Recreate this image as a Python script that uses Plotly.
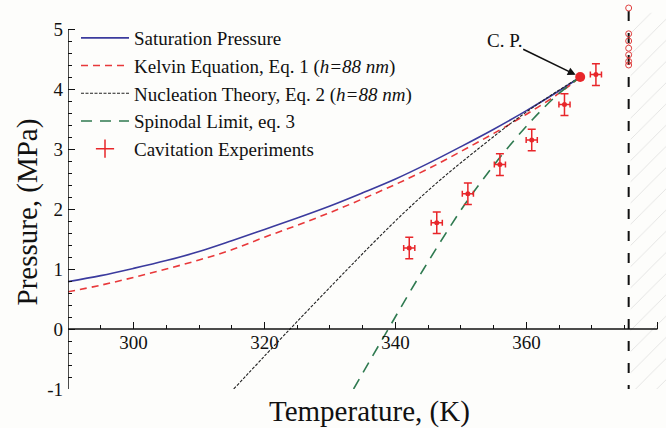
import plotly.graph_objects as go

# ---------------- data ----------------
sat_T = [290, 295, 300, 305, 310, 315, 320, 325, 330, 335, 340, 345, 350, 355, 360, 365, 368.2]
sat_P = [0.79, 0.89, 1.01, 1.14, 1.29, 1.47, 1.66, 1.85, 2.05, 2.27, 2.50, 2.76, 3.04, 3.33, 3.64, 3.97, 4.20]

kel_T = [290, 295, 300, 305, 310, 315, 320, 325, 330, 335, 340, 345, 350, 355, 360, 365, 368.2]
kel_P = [0.62, 0.73, 0.86, 1.00, 1.15, 1.32, 1.53, 1.73, 1.94, 2.17, 2.41, 2.67, 2.96, 3.26, 3.58, 3.93, 4.20]

nuc_T = [315.3, 323.9, 332.7, 337.2, 341.9, 347.0, 352.6, 358.5, 363.8, 368.2]
nuc_P = [-1.0, 0.0, 1.0, 1.5, 2.0, 2.5, 3.0, 3.5, 3.9, 4.20]

spi_T = [333.6, 338.9, 344.3, 350.1, 353.4, 357.0, 361.0, 364.7, 368.2]
spi_P = [-1.0, 0.0, 1.0, 2.0, 2.5, 3.0, 3.5, 3.9, 4.20]

exp_T = [342.1, 346.3, 351.05, 355.94, 360.8, 365.8, 370.6]
exp_P = [1.35, 1.77, 2.255, 2.74, 3.15, 3.74, 4.24]
exp_dT = [0.85, 0.85, 0.85, 0.85, 0.85, 0.85, 0.85]
exp_dP = [0.18, 0.18, 0.18, 0.18, 0.18, 0.18, 0.18]

cp_T = [368.2]
cp_P = [4.20]

lim_T = 375.6
lim_circ_P = [5.35, 4.92, 4.80, 4.68, 4.57, 4.46, 4.40]
lim_P_span = [-1.1, 5.35]
hatch_T = [375.9, 381.5]
hatch_P = [-1.13, 5.27]

x_ticks = [300, 320, 340, 360, 380]
y_ticks = [-1, 0, 1, 2, 3, 4, 5]

x_range = [290, 381.3]
y_range = [-1.0, 5.45]

FONT = "'Liberation Serif', 'DejaVu Serif', serif"
RED = "#e8262a"

fig = go.Figure()

# hatched region
fig.add_trace(go.Scatter(
    x=[hatch_T[0], hatch_T[1], hatch_T[1], hatch_T[0], hatch_T[0]],
    y=[hatch_P[0], hatch_P[0], hatch_P[1], hatch_P[1], hatch_P[0]],
    fill="toself", mode="lines", line=dict(width=0, color="rgba(0,0,0,0)"),
    fillcolor="rgba(0,0,0,0)",
    fillpattern=dict(shape="/", size=15, solidity=0.06, fgcolor="#c8c8c8",
                     bgcolor="rgba(0,0,0,0)", fillmode="overlay"),
    showlegend=False, hoverinfo="skip"))

# vertical dashed limit line
fig.add_trace(go.Scatter(
    x=[lim_T, lim_T], y=lim_P_span, mode="lines",
    line=dict(color="#111111", width=2, dash="10px,12px"),
    showlegend=False, hoverinfo="skip"))
fig.add_trace(go.Scatter(
    x=[lim_T] * len(lim_circ_P), y=lim_circ_P, mode="markers",
    marker=dict(symbol="circle-open", size=6, color="#e04040", line=dict(width=1)),
    showlegend=False, cliponaxis=False, hoverinfo="skip"))

fig.add_trace(go.Scatter(
    x=sat_T, y=sat_P, mode="lines", name="Saturation Pressure",
    line=dict(color="#3b3b9e", width=1.6, shape="spline")))
fig.add_trace(go.Scatter(
    x=kel_T, y=kel_P, mode="lines",
    name="Kelvin Equation, Eq. 1 (<i>h=88 nm</i>)",
    line=dict(color="#e8383a", width=1.6, dash="7px,5px", shape="spline")))
fig.add_trace(go.Scatter(
    x=nuc_T, y=nuc_P, mode="lines",
    name="Nucleation Theory, Eq. 2 (<i>h=88 nm</i>)",
    line=dict(color="#222222", width=1.1, dash="3px,1.5px", shape="spline")))
fig.add_trace(go.Scatter(
    x=spi_T, y=spi_P, mode="lines", name="Spinodal Limit, eq. 3",
    line=dict(color="#2f7a50", width=1.6, dash="11px,8px", shape="spline")))
fig.add_trace(go.Scatter(
    x=exp_T, y=exp_P, mode="markers", name="Cavitation Experiments",
    marker=dict(color=RED, size=5), showlegend=False,
    error_x=dict(type="data", array=exp_dT, color=RED, thickness=1.5, width=3),
    error_y=dict(type="data", array=exp_dP, color=RED, thickness=1.5, width=4)))
# legend entry for the experiments (cross-shaped key)
fig.add_trace(go.Scatter(
    x=[None], y=[None], mode="markers", name="Cavitation Experiments",
    marker=dict(symbol="cross-thin", size=13, color=RED, line=dict(width=1.5, color=RED))))
fig.add_trace(go.Scatter(
    x=cp_T, y=cp_P, mode="markers", marker=dict(color=RED, size=10),
    showlegend=False, hoverinfo="skip"))

# axis lines drawn only over the labelled span
fig.add_shape(type="line", xref="x", yref="y", x0=x_range[0], x1=x_ticks[-1], y0=0, y1=0,
              line=dict(color="#111111", width=1.5))
fig.add_shape(type="line", xref="x", yref="y", x0=x_range[0], x1=x_range[0],
              y0=y_ticks[0], y1=y_ticks[-1], line=dict(color="#111111", width=1.5))

# C. P. annotation
fig.add_annotation(x=cp_T[0], y=cp_P[0], xref="x", yref="y", text="C. P.",
                   showarrow=True, arrowhead=2, arrowsize=1, arrowwidth=1.6,
                   arrowcolor="#111111", ax=-76, ay=-37, standoff=5,
                   font=dict(family=FONT, size=19, color="#111111"))

# axis titles
fig.add_annotation(x=(369 - 68) / 598, y=(389 - 411.5) / 387, xref="paper", yref="paper",
                   text="Temperature, (K)", showarrow=False, xanchor="center", yanchor="middle",
                   font=dict(family=FONT, size=29, color="#111111"))
fig.add_annotation(x=(27 - 68) / 598, y=(389 - 212.5) / 387, xref="paper", yref="paper",
                   text="Pressure, (MPa)", showarrow=False, textangle=-90,
                   xanchor="center", yanchor="middle",
                   font=dict(family=FONT, size=29, color="#111111"))

x_minor = [v for v in range(295, 380, 5) if v not in x_ticks]
y_minor = [round(-1 + 0.2 * i, 1) for i in range(31) if (i % 5) != 0]

fig.update_layout(
    width=666, height=428,
    margin=dict(l=68, r=0, t=2, b=39),
    paper_bgcolor="#fdfdfb", plot_bgcolor="#fdfdfb",
    font=dict(family=FONT, size=19, color="#111111"),
    showlegend=True,
    legend=dict(x=8 / 598, y=(389 - 19) / 387, xanchor="left", yanchor="top",
                bgcolor="rgba(0,0,0,0)", borderwidth=0,
                font=dict(family=FONT, size=19, color="#111111"),
                itemwidth=48, tracegroupgap=0),
    xaxis=dict(range=x_range, anchor="free", position=(0 - y_range[0]) / (y_range[1] - y_range[0]),
               showline=False, showgrid=False, zeroline=False,
               tickmode="array", tickvals=x_ticks, ticktext=[str(v) for v in x_ticks],
               ticks="inside", ticklen=7, tickwidth=1.3, tickcolor="#111111",
               tickfont=dict(family=FONT, size=19, color="#111111"),
               minor=dict(tickmode="array", tickvals=x_minor, ticks="inside",
                          ticklen=4, tickwidth=1.2, tickcolor="#111111", showgrid=False)),
    yaxis=dict(range=y_range, domain=[0, 1],
               showline=False, showgrid=False, zeroline=False,
               tickmode="array", tickvals=y_ticks, ticktext=[str(v) for v in y_ticks],
               ticks="inside", ticklen=7, tickwidth=1.3, tickcolor="#111111",
               ticklabelstandoff=4,
               tickfont=dict(family=FONT, size=19, color="#111111"),
               minor=dict(tickmode="array", tickvals=y_minor, ticks="inside",
                          ticklen=4, tickwidth=1.2, tickcolor="#111111", showgrid=False)),
)

fig.write_html("out.html")
